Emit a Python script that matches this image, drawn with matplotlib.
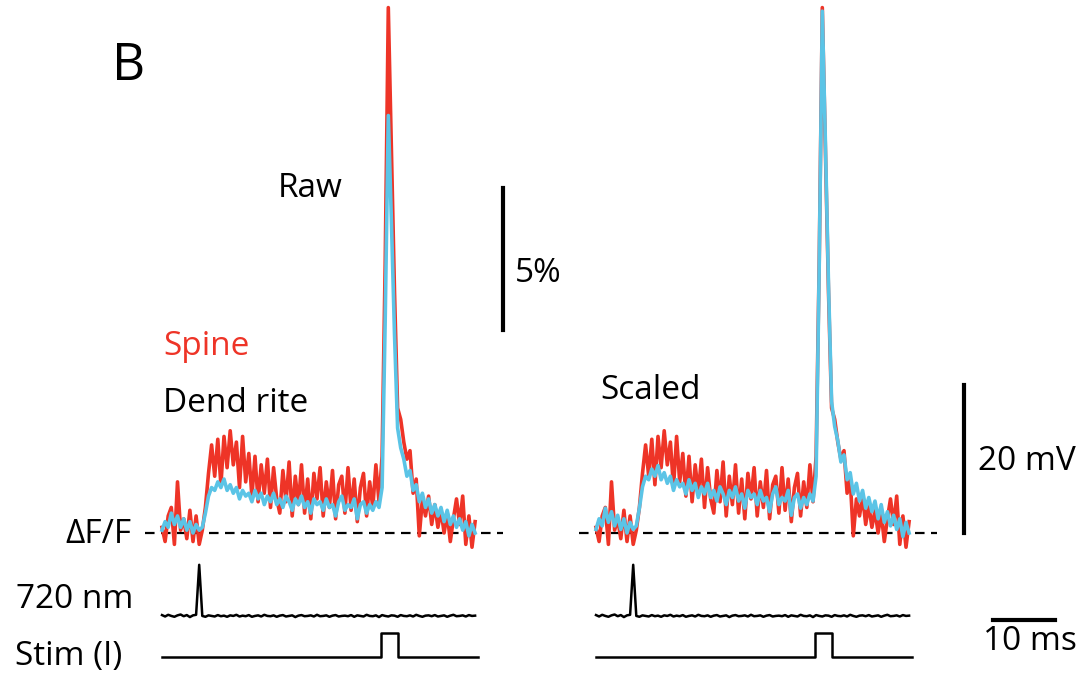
import numpy as np
import matplotlib
matplotlib.use('Agg')
from matplotlib import pyplot as plt

plt.rcParams['font.family'] = ['Open Sans', 'DejaVu Sans']

# sampling interval of the imaging traces (ms)
dt = 0.5

# dF/F (%) for spine (red) and dendrite (blue)
spine = [0.2, -0.3, 0.6, 0.9, -0.4, 1.8, 0.1, 0.5, -0.2, 0.8, -0.3, 0.6, -0.4, 0.1,
         0.9, 2.1, 3.1, 2.0, 3.3, 1.7, 3.4, 2.3, 3.6, 2.4, 3.2, 1.6, 3.4, 1.8, 2.8, 1.3,
         2.7, 1.1, 2.4, 1.4, 2.6, 0.9,
         2.3, 1.2, 0.7, 2.2, 1.1, 2.5, 0.6, 2.0, 1.0, 2.4, 0.7, 1.9, 0.5, 2.1, 1.2,
         2.3, 0.6, 1.8, 0.9, 2.2, 0.5, 1.7, 2.0, 0.7, 2.3, 0.8, 1.9, 0.4, 1.6, 2.1,
         0.6, 1.8, 0.9, 2.4, 1.1,
         2.7, 9.5, 18.5, 13.5, 8.5, 4.4, 4.0, 3.2, 2.6, 2.9, 1.4, 1.9, -0.1, 1.2, 0.6,
         1.3, 0.3, 1.0, 0.2, 0.8, 0.0, 0.7, -0.3, 0.5, 1.2, 0.3, 1.3, -0.4, 0.6, -0.5, 0.4]
dendrite = [0.1, 0.4, 0.2, 0.7, 0.3, 0.6, 0.2, 0.5, 0.1, 0.4, 0.0, 0.3, 0.1, 0.2,
            0.7, 1.3, 1.6, 1.5, 1.8, 1.6, 1.9, 1.5, 1.7, 1.4, 1.6, 1.2, 1.5, 1.3, 1.4, 1.1,
            1.5, 1.2, 1.4, 1.0, 1.3, 1.1,
            1.4, 1.0, 1.2, 0.9, 1.3, 1.1, 0.8, 1.2, 1.0, 1.3, 0.9, 1.1, 0.7, 1.2, 1.0,
            1.1, 0.8, 1.2, 0.9, 1.0, 0.6, 1.1, 1.3, 0.8, 1.0, 0.9, 1.2, 0.5, 1.0, 1.1,
            0.7, 1.0, 0.8, 1.1, 0.9,
            1.6, 7.5, 14.7, 11.0, 7.0, 3.7, 3.0, 2.6, 2.0, 2.2, 1.5, 1.7, 1.1, 1.4, 0.9,
            1.2, 0.7, 1.0, 0.6, 0.9, 0.4, 0.8, 0.3, 0.6, 0.2, 0.5, 0.1, 0.4, -0.1, 0.3, 0.0]
# dendrite scaled to the spine peak in the right panel
scale_factor = 1.25

# 720 nm uncaging monitor (arb. units)
laser = [0.03, -0.02, 0.04, 0.0, -0.03, 0.02, 0.05, -0.01, 0.03, -0.04, 0.02, 0.04, 1.8,
         0.0, -0.03, 0.02, 0.0, -0.02, 0.03, -0.01, 0.01, -0.03, 0.02, 0.0, 0.04, -0.02,
         0.01, -0.01, 0.03, -0.03, 0.0, 0.02, -0.02, 0.04, 0.0, -0.01, 0.02, -0.03, 0.01,
         0.03, -0.02, 0.0, 0.02, -0.04, 0.01, 0.03, -0.01, 0.0, 0.02, -0.02, 0.04, -0.01,
         0.0, 0.02, -0.03, 0.01, 0.03, -0.02, 0.0, 0.01, -0.01, 0.03, -0.03, 0.02, 0.0,
         -0.02, 0.04, 0.0, -0.01, 0.02, -0.04, 0.03, 0.0, -0.02, 0.02, 0.01, -0.03, 0.03,
         0.0, -0.01, 0.02, -0.02, 0.04, 0.0, -0.03, 0.01, 0.02, -0.01, 0.03, -0.02, 0.0,
         0.02, -0.03, 0.01, 0.04, -0.01, 0.0, 0.02, -0.02, 0.03, 0.0, 0.01]

# current injection step
stim_t = [0, 35.3, 35.3, 38.1, 38.1, 51.0]
stim_v = [0, 0, 1, 1, 0, 0]

# scale bars
bar_pct = 5
bar_ms = 10
bar_mv = 20

red = '#EE3427'
blue = '#5BC4E6'

t = np.arange(len(spine)) * dt
t_laser = np.arange(len(laser)) * dt

W, H = 1079, 673
fig = plt.figure(figsize=(W / 100, H / 100), dpi=100)
ax = fig.add_axes([0, 0, 1, 1])
ax.axis('off')
px_ms = 6.2      # pixels per ms
px_pct = 28.4    # pixels per % dF/F
ax.set_xlim(-162 / px_ms, (W - 162) / px_ms)
ax.set_ylim(-(H - 533) / px_pct, 533 / px_pct)

laser_y = -2.92
laser_h = 1.0
stim_y = -4.37
stim_h = 0.85

# left panel = raw, right panel = scaled
for off, k in [(0, 1.0), (70.0, scale_factor)]:
    ax.plot([off - 2.7, off + 55.0], [0, 0], color='black', lw=1.6, dashes=(4.3, 2.9))
    ax.plot(t + off, spine, color=red, lw=2.6)
    ax.plot(t + off, np.array(dendrite) * k, color=blue, lw=2.6)
    ax.plot(t_laser + off, laser_y + np.array(laser) * laser_h, color='black', lw=1.8)
    ax.plot(np.array(stim_t) + off, stim_y + np.array(stim_v) * stim_h, color='black', lw=1.8)

# scale bars
ax.plot([55.0, 55.0], [7.15, 7.15 + bar_pct], color='black', lw=3)
ax.plot([129.4, 129.4], [0, 5.2], color='black', lw=3)
ax.plot([134.0, 134.0 + bar_ms], [-3.06, -3.06], color='black', lw=3)


def label(x, y, s, size=24, color='black', ha='left'):
    fig.text(x / W, 1 - y / H, s, fontsize=size, color=color, ha=ha, va='baseline')


label(112, 80, 'B', size=37)
label(278, 197, 'Raw')
label(515, 282, '%d%%' % bar_pct)
label(163, 355, 'Spine', color=red)
label(163, 412, 'Dend rite')
label(600, 399, 'Scaled')
label(978, 470, '%d mV' % bar_mv)
label(131, 543, '\u0394F/F', ha='right')
label(16, 608, '720 nm')
label(15, 665, 'Stim (I)')
label(983, 650, '%d ms' % bar_ms)

fig.savefig('out.png', dpi=100)
